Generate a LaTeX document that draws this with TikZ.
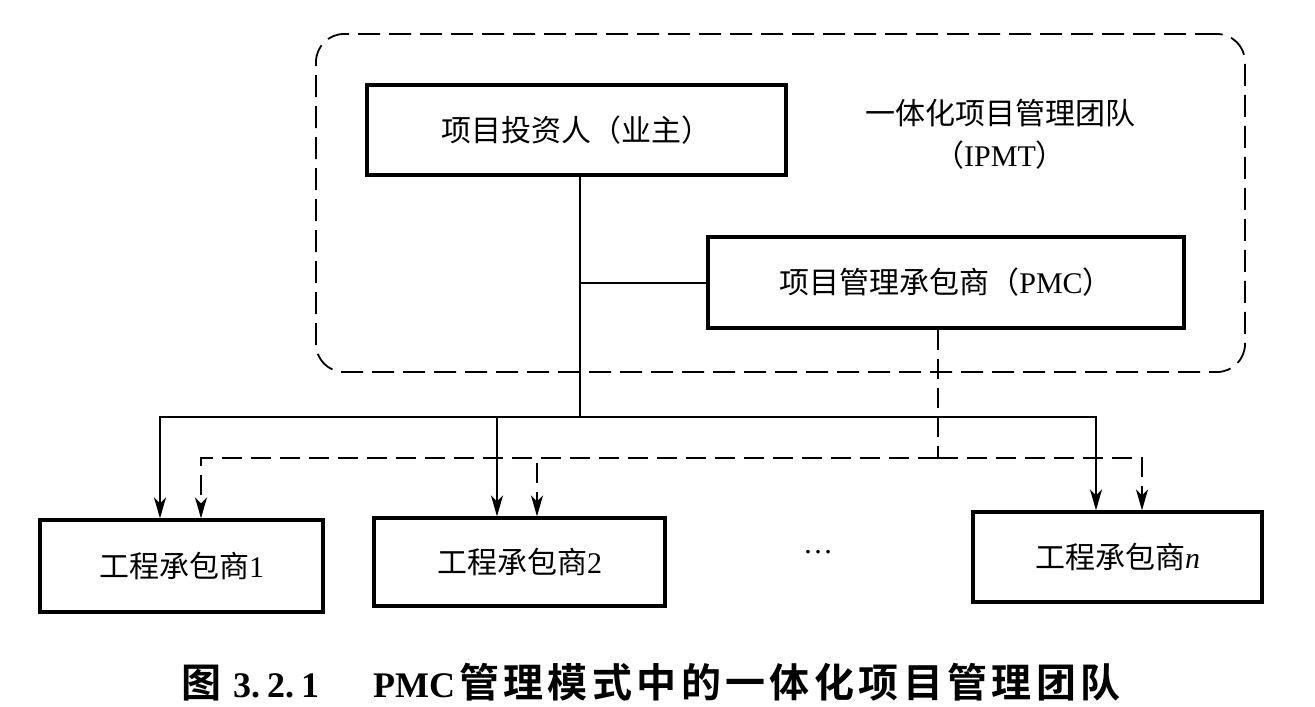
\documentclass[tikz,border=0pt]{standalone}
\usepackage{fontspec}
\setmainfont{Liberation Serif}
\newfontfamily\cjk{Noto Sans CJK SC}
\newfontfamily\cjkb{Noto Sans CJK SC}[BoldFont={Noto Sans CJK SC Bold},LetterSpace=11]
\usetikzlibrary{arrows.meta}
\begin{document}
\begin{tikzpicture}[x=1pt,y=-1pt,
  box/.style={draw, line width=3.2pt, inner sep=0pt, font=\fontsize{30}{36}\selectfont},
  frame/.style={draw, line width=1.8pt, dash pattern=on 22pt off 9pt, rounded corners=28pt, inner sep=0pt},
  conn/.style={line width=2pt},
  dconn/.style={line width=2pt, dash pattern=on 20pt off 9pt},
  tip/.style={-{Stealth[length=21pt,width=12pt,inset=6pt]}},
  label/.style={font=\fontsize{30}{42}\selectfont, align=center, inner sep=0pt}
]
\useasboundingbox (0,0) rectangle (1315,707);
% IPMT frame
\node[frame, minimum width=929pt, minimum height=338pt] (ipmt) at (780.5,203) {};
% boxes
\node[box, minimum width=419pt, minimum height=90pt] (inv) at (576.5,130) {\cjk 项目投资人（业主）};
\node[label] (team) at (1000,134) {\cjk 一体化项目管理团队\\{\cjk （}IPMT{\cjk ）}};
\node[box, minimum width=476pt, minimum height=91pt] (pmc) at (946,282.5) {{\cjk 项目管理承包商（}PMC{\cjk ）}};
\node[box, minimum width=283pt, minimum height=92pt] (e1) at (181.5,566) {{\cjk 工程承包商}1};
\node[box, minimum width=291pt, minimum height=88pt] (e2) at (519.5,562) {{\cjk 工程承包商}2};
\node[box, minimum width=289pt, minimum height=90pt] (en) at (1117.5,557) {{\cjk 工程承包商}\textit{n}};
\node[font=\fontsize{30}{36}\selectfont, inner sep=0pt] (dots) at (818,552) {…};
% junctions
\coordinate (j1) at (580,417);
\coordinate (j2) at (938,458);
% solid connectors
\draw[conn] (inv.south -| j1) -- (j1);
\draw[conn] (pmc.west) -- (pmc.west -| j1);
\draw[conn,tip] (j1) -| ([xshift=-21.5pt]e1.north);
\draw[conn,tip] (j1) -| ([xshift=-22.5pt]e2.north);
\draw[conn,tip] (j1) -| ([xshift=-21.5pt]en.north);
% dashed connectors
\draw[dconn] (pmc.south -| j2) -- (j2);
\draw[dconn,tip] (j2) -| ([xshift=19.5pt]e1.north);
\draw[dconn,tip] (j2) -| ([xshift=17.5pt]e2.north);
\draw[dconn,tip] (j2) -| ([xshift=24.5pt]en.north);
% caption
\node[inner sep=0pt, font=\fontsize{36}{40}\selectfont\bfseries] (cap) at (651,682)
 {{\fontsize{40}{40}\selectfont\cjkb\bfseries 图}\hspace{12pt}3.\hspace{7pt}2.\hspace{7pt}1\hspace{54pt}PMC\hspace{4pt}{\fontsize{40}{40}\selectfont\cjkb\bfseries 管理模式中的一体化项目管理团队}};
\end{tikzpicture}
\end{document}
